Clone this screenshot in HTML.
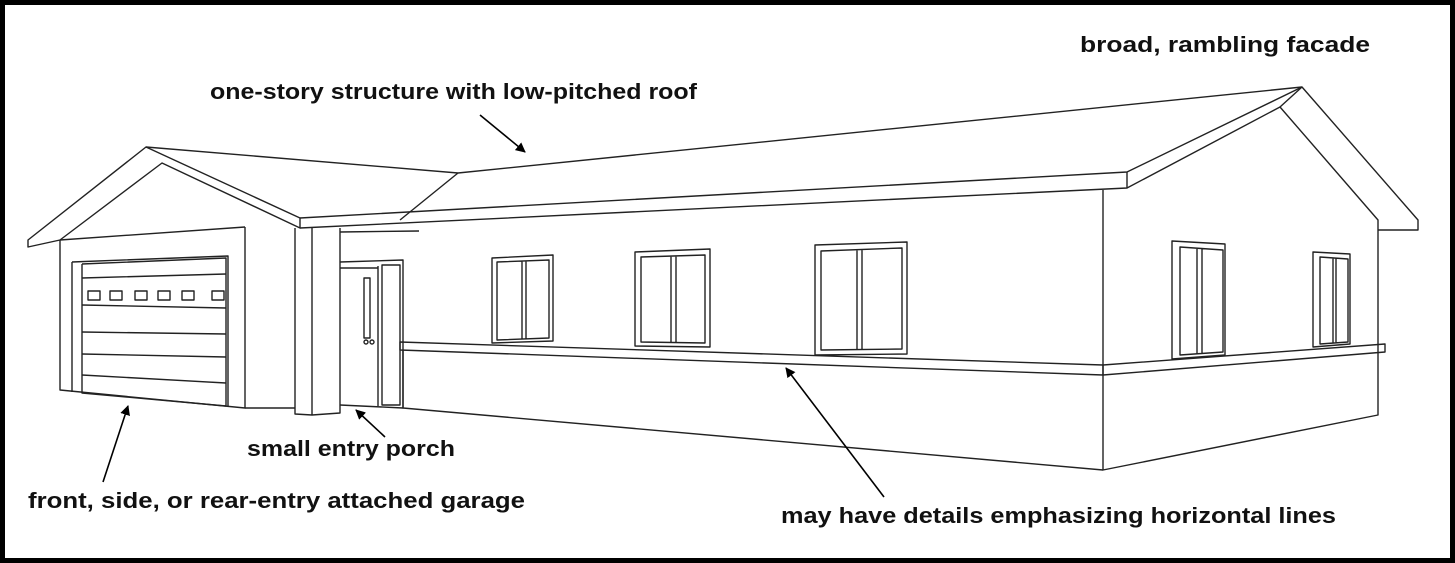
<!DOCTYPE html>
<html><head><style>html,body{margin:0;padding:0;background:#fff}svg{display:block}</style></head><body>
<svg width="1455" height="563" viewBox="0 0 1455 563" xmlns="http://www.w3.org/2000/svg">
<defs><marker id="ah" markerWidth="10" markerHeight="10" refX="9" refY="5" orient="auto" markerUnits="userSpaceOnUse"><path d="M0,0 L10,5 L0,10 Z" fill="#000"/></marker></defs>
<rect x="2.5" y="2.5" width="1450" height="558" fill="#fff" stroke="#000" stroke-width="5"/>
<g fill="none" stroke="#222" stroke-width="1.4" stroke-linejoin="round">
<!-- garage roof -->
<path d="M28,240 L146,147 L300,218 L300,228 L162,163 L60,240 L28,247 Z"/>
<path d="M146,147 L458,173"/>
<path d="M60,240 L245,227"/>
<!-- main roof -->
<path d="M458,173 L1302,87 L1418,220 L1418,230 L1378,230"/>
<path d="M458,173 L400,220"/>
<path d="M300,218 L1127,172 L1302,87"/>
<path d="M300,228 L1127,188 L1127,172"/>
<path d="M1127,188 L1280,107 L1378,220 L1378,230"/>
<path d="M1302,87 L1280,107"/>
<!-- garage walls -->
<path d="M60,240 L60,390 L245,408 L245,227"/>
<path d="M245,408 L295,408"/>
<path d="M72,262 L228,256 L228,407 M72,262 L72,392"/>
<path d="M82,264 L226,258 L226,406 M82,264 L82,393 L226,406"/>
<path d="M82,278 L226,274 M82,305 L226,308 M82,332 L226,334 M82,354 L226,357 M82,375 L226,383"/>
<rect x="88" y="291" width="12" height="9"/><rect x="110" y="291" width="12" height="9"/><rect x="135" y="291" width="12" height="9"/><rect x="158" y="291" width="12" height="9"/><rect x="182" y="291" width="12" height="9"/><rect x="212" y="291" width="12" height="9"/>
<!-- column -->
<path d="M295,228 L295,414 L312,415 L340,413 L340,228 M312,228 L312,415"/>
<!-- door -->
<path d="M340,262 L403,260 L403,408 L340,405 M378,266 L378,406 M382,265 L400,265 L400,405 L382,405 Z M340,268 L378,268"/>
<rect x="364" y="278" width="6" height="60"/>
<circle cx="366" cy="342" r="2"/><circle cx="372" cy="342" r="2"/>
<path d="M340,232 L419,231"/>
<!-- front wall -->
<path d="M400,342 L1103,365 L1103,375 L400,350 Z"/>
<path d="M403,350 L403,408 L1103,470"/>
<path d="M1103,190 L1103,470 L1378,415 L1378,230"/>
<path d="M1103,365 L1385,344 L1385,352 L1103,375"/>
<!-- front windows -->
<path d="M492,258 L553,255 L553,341 L492,343 Z M497,262 L549,260 L549,338 L497,340 Z M522,261 L522,339 M526,261 L526,339"/>
<path d="M635,252 L710,249 L710,347 L635,346 Z M641,257 L705,255 L705,343 L641,342 Z M671,256 L671,342 M676,256 L676,342"/>
<path d="M815,245 L907,242 L907,354 L815,355 Z M821,251 L902,248 L902,349 L821,350 Z M857,250 L857,350 M862,250 L862,350"/>
<!-- side windows -->
<path d="M1172,241 L1225,244 L1225,355 L1172,359 Z M1180,247 L1223,250 L1223,352 L1180,355 Z M1197,248 L1197,354 M1202,249 L1202,353"/>
<path d="M1313,252 L1350,254 L1350,344 L1313,347 Z M1320,257 L1348,259 L1348,342 L1320,344 Z M1333,258 L1333,343 M1336,258 L1336,343"/>
</g>
<g stroke="#000" stroke-width="1.6" marker-end="url(#ah)">
<line x1="480" y1="115" x2="525" y2="152"/>
<line x1="103" y1="482" x2="128" y2="406"/>
<line x1="385" y1="437" x2="356" y2="410"/>
<line x1="884" y1="497" x2="786" y2="368"/>
</g>
<g font-family="'Liberation Sans',sans-serif" font-weight="bold" font-size="22" fill="#111">
<text x="1080" y="52" textLength="290" lengthAdjust="spacingAndGlyphs">broad, rambling facade</text>
<text x="210" y="99" textLength="487" lengthAdjust="spacingAndGlyphs">one-story structure with low-pitched roof</text>
<text x="247" y="456" textLength="208" lengthAdjust="spacingAndGlyphs">small entry porch</text>
<text x="28" y="508" textLength="497" lengthAdjust="spacingAndGlyphs">front, side, or rear-entry attached garage</text>
<text x="781" y="523" textLength="555" lengthAdjust="spacingAndGlyphs">may have details emphasizing horizontal lines</text>
</g>
</svg>
</body></html>
